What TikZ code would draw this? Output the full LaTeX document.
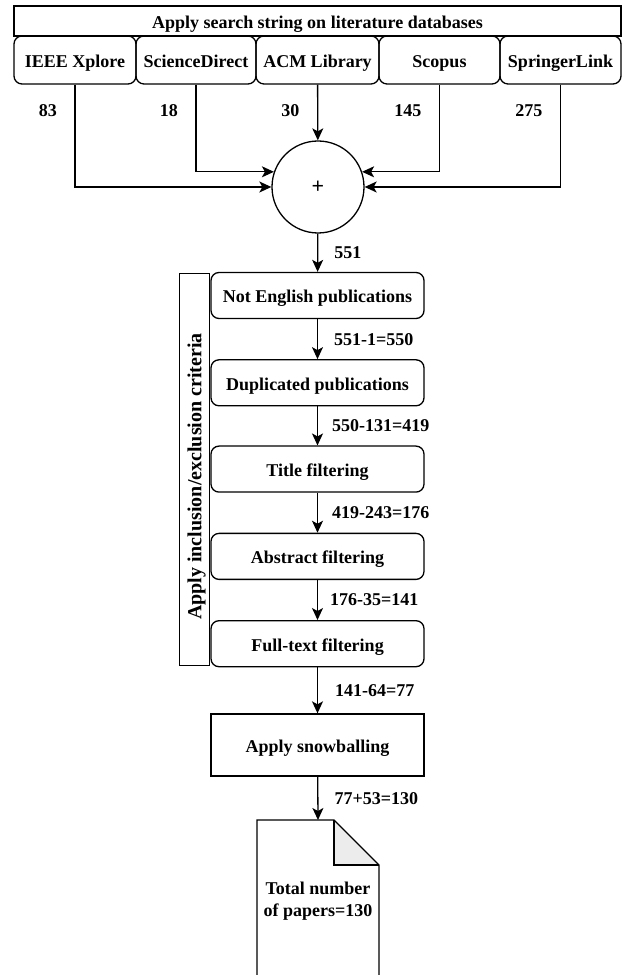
\documentclass[tikz,border=0pt]{standalone}
\usepackage{fontspec}
\setmainfont{Liberation Serif}
\usetikzlibrary{arrows.meta, positioning, calc}
\tikzset{
  basebox/.style={
    rectangle, draw, line width=1.3pt, align=center, inner sep=2pt,
    text height=18pt, text depth=3pt,
    font=\bfseries\fontsize{18}{21}\selectfont
  },
  headbox/.style={
    basebox, minimum width=607pt, minimum height=30pt
  },
  dbbox/.style={
    basebox, rounded corners=8pt, minimum height=48pt
  },
  stepbox/.style={
    basebox, rounded corners=8pt, minimum width=213pt, minimum height=46pt
  },
  countlabel/.style={
    inner sep=1pt, font=\bfseries\fontsize{18}{22}\selectfont
  },
  flowarrow/.style={
    line width=1.3pt, -{Stealth[length=12pt, width=11pt, inset=3pt]}
  }
}

\begin{document}
\begin{tikzpicture}[x=1pt, y=1pt]
  \useasboundingbox (0,0) rectangle (625,975);
  % search databases
  \node[headbox] (searchBox) at (317.5,954) {Apply search string on literature databases};
  \node[dbbox, minimum width=122pt] (ieee) at (75,915) {IEEE Xplore};
  \node[dbbox, minimum width=120pt] (sciDirect) at (196,915) {ScienceDirect};
  \node[dbbox, minimum width=123pt] (acm) at (317.5,915) {ACM Library};
  \node[dbbox, minimum width=121pt] (scopus) at (439.5,915) {Scopus};
  \node[dbbox, minimum width=121pt] (springer) at (560.5,915) {SpringerLink};
  \node[circle, draw, line width=1.3pt, minimum size=92pt, font=\bfseries\fontsize{22}{24}\selectfont] (merge) at (318,788) {+};

  \node[countlabel, anchor=east] at ($(ieee.south)+(-17,-26)$) {83};
  \node[countlabel, anchor=east] at ($(sciDirect.south)+(-17,-26)$) {18};
  \node[countlabel, anchor=east] at ($(acm.south)+(-17,-26)$) {30};
  \node[countlabel, anchor=east] at ($(scopus.south)+(-17,-26)$) {145};
  \node[countlabel, anchor=east] at ($(springer.south)+(-17,-26)$) {275};

  % screening steps
  \node[stepbox] (notEnglish) at (317.5,679.5) {Not English publications};
  \node[stepbox, below=40pt of notEnglish] (duplicated) {Duplicated publications};
  \node[stepbox, below=39pt of duplicated] (titleFilt) {Title filtering};
  \node[stepbox, below=40pt of titleFilt] (abstractFilt) {Abstract filtering};
  \node[stepbox, below=40pt of abstractFilt] (fullText) {Full-text filtering};
  \node[draw, line width=1.3pt, anchor=east, minimum width=30pt, minimum height=392pt]
    (criteria) at ($(notEnglish.north west)!0.5!(fullText.south west)$) {};
  \node[countlabel, rotate=90, font=\bfseries\fontsize{20}{24}\selectfont]
    (criteriaText) at ($(criteria.center)+(2,-7)$) {Apply inclusion/exclusion criteria};
  \node[basebox, minimum width=213pt, minimum height=62pt, below=46pt of fullText] (snowball) {Apply snowballing};

  % final document
  \coordinate (docTop) at (318,155);
  \fill[gray!15] ($(docTop)+(16,0)$) -- ($(docTop)+(61,-45)$) -- ($(docTop)+(16,-45)$) -- cycle;
  \draw[line width=1.3pt, line join=miter] ($(docTop)+(-61,-180)$) -- ($(docTop)+(-61,0)$) -- ($(docTop)+(16,0)$)
    -- ($(docTop)+(61,-45)$) -- ($(docTop)+(61,-180)$);
  \draw[line width=1.3pt] ($(docTop)+(16,0)$) -- ($(docTop)+(16,-45)$) -- ($(docTop)+(61,-45)$);
  \node[countlabel, align=center] (total) at (318,74) {Total number\\of papers=130};

  % connectors
  \draw[flowarrow] (ieee.south) |- (merge.west);
  \draw[flowarrow] (sciDirect.south) |- (merge.161);
  \draw[flowarrow] (acm) -- (merge);
  \draw[flowarrow] (scopus.south) |- (merge.19);
  \draw[flowarrow] (springer.south) |- (merge.east);
  \draw[flowarrow] (merge) -- node[countlabel, right=15pt] {551} (notEnglish);
  \draw[flowarrow] (notEnglish) -- node[countlabel, right=15pt] {551-1=550} (duplicated);
  \draw[flowarrow] (duplicated) -- node[countlabel, right=13pt] {550-131=419} (titleFilt);
  \draw[flowarrow] (titleFilt) -- node[countlabel, right=13pt] {419-243=176} (abstractFilt);
  \draw[flowarrow] (abstractFilt) -- node[countlabel, right=11pt] {176-35=141} (fullText);
  \draw[flowarrow] (fullText) -- node[countlabel, right=16pt] {141-64=77} (snowball);
  \draw[flowarrow] (snowball) -- node[countlabel, right=15pt] {77+53=130} (docTop);
\end{tikzpicture}
\end{document}
